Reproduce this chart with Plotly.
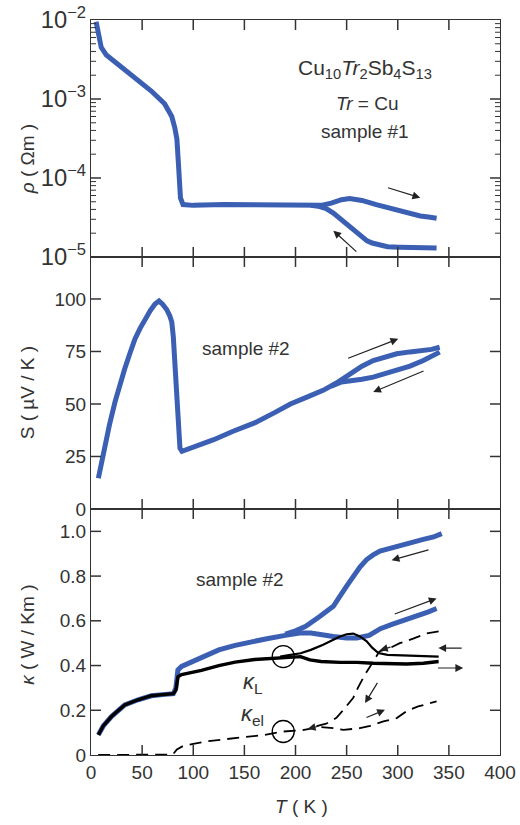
import math
import plotly.graph_objects as go

# ---------------- data ----------------
# resistivity, heating branch
rho_heat_T = [5, 7, 10, 15, 26, 43, 59, 72, 79, 82, 84, 85.4, 86.5, 87.5, 90, 100, 130, 160, 190, 210,
              225, 235, 245, 253, 265, 279, 290, 302, 315, 322, 330, 338]
rho_heat = [9.5e-3, 6.5e-3, 4.5e-3, 3.6e-3, 2.75e-3, 1.9e-3, 1.26e-3, 8.7e-4, 6.0e-4, 4.3e-4, 3.1e-4,
            1.6e-4, 8.0e-5, 5.6e-5, 4.6e-5, 4.5e-5, 4.6e-5, 4.6e-5, 4.6e-5, 4.5e-5,
            4.5e-5, 4.8e-5, 5.3e-5, 5.5e-5, 5.2e-5, 4.6e-5, 4.2e-5, 3.8e-5, 3.45e-5, 3.3e-5, 3.2e-5, 3.1e-5]
# resistivity, cooling branch
rho_cool_T = [338, 320, 302, 290, 283, 275, 270, 262, 253, 245, 237, 230, 222, 215]
rho_cool = [1.3e-5, 1.3e-5, 1.33e-5, 1.35e-5, 1.4e-5, 1.5e-5, 1.6e-5, 1.95e-5, 2.4e-5, 2.95e-5,
            3.6e-5, 4.1e-5, 4.4e-5, 4.5e-5]

# Seebeck, heating branch
S_heat_T = [7.2, 10, 13.7, 18, 23.5, 28, 33, 38, 43, 48, 53, 58, 62.6, 66.5, 70, 74, 77, 79, 80.5, 81.5,
            83, 83.8, 85, 86.4, 87, 89, 92, 100, 105, 120, 139, 160, 180, 195, 210, 227, 240, 253, 265,
            276, 288, 299, 312, 325, 333, 341]
S_heat = [14.6, 22, 30, 40, 51, 59, 66.8, 74, 81, 86, 90.5, 94.5, 97.6, 99, 97.5, 95, 92, 89, 82, 74.7,
          62, 55.7, 45, 35, 29, 27.5, 28, 29.5, 30.4, 33, 37, 41, 46, 50, 53, 56.5, 60, 64.4, 68,
          70.7, 72.5, 73.9, 74.8, 75.5, 76, 77]
# Seebeck, cooling branch
S_cool_T = [341, 333, 325, 312, 299, 288, 276, 265, 253, 245, 235]
S_cool = [74.7, 72.5, 70.7, 68, 66, 64.3, 62.8, 61.8, 61, 60.5, 58.5]

# thermal conductivity (total), heating branch
k_heat_T = [7.2, 12, 20, 33, 46, 59, 70, 80.5, 83, 85, 88.6, 100, 108, 125, 141, 160, 172, 190, 204,
            215, 226, 237, 250, 260, 272, 283, 295, 309, 320, 330, 338]
k_heat = [0.09, 0.13, 0.172, 0.224, 0.247, 0.265, 0.27, 0.274, 0.30, 0.38, 0.396, 0.42, 0.434, 0.47,
          0.49, 0.51, 0.52, 0.535, 0.545, 0.545, 0.54, 0.53, 0.523, 0.523, 0.535, 0.565, 0.585, 0.605,
          0.625, 0.64, 0.655]
# thermal conductivity (total), cooling branch
k_cool_T = [343, 335, 325, 313, 302, 290, 282.6, 276, 269.6, 263, 256.5, 250, 243.5, 237, 224, 218,
            210, 200, 190]
k_cool = [0.99, 0.975, 0.964, 0.95, 0.94, 0.925, 0.912, 0.895, 0.874, 0.84, 0.80, 0.755, 0.71, 0.665,
          0.62, 0.60, 0.575, 0.555, 0.54]

# lattice part kappa_L
kL_heat_T = [7.2, 12, 20, 33, 46, 59, 70, 80.5, 83, 85, 88.6, 108, 125, 141, 160, 188, 205, 214, 225,
             243.5, 260, 276, 290, 308.7, 325, 340]
kL_heat = [0.09, 0.13, 0.172, 0.224, 0.247, 0.265, 0.27, 0.274, 0.29, 0.35, 0.36, 0.378, 0.40, 0.415,
           0.427, 0.437, 0.44, 0.425, 0.418, 0.414, 0.414, 0.41, 0.408, 0.407, 0.41, 0.418]
kL_cool_T = [340, 320, 302, 290, 281, 275, 269.6, 263, 256.5, 250, 243.5, 235, 227, 215, 205, 195, 185]
kL_cool = [0.44, 0.442, 0.444, 0.448, 0.456, 0.48, 0.508, 0.53, 0.543, 0.54, 0.53, 0.51, 0.493, 0.47,
           0.455, 0.448, 0.44]

# electronic part kappa_el
kel_heat_T = [7, 20, 40, 60, 80, 84, 90, 100, 115, 130, 150, 170, 188, 205, 215, 225, 237, 247, 263,
              273, 286, 299, 310, 320, 338]
kel_heat = [0.0, 0.0, 0.0, 0.0, 0.002, 0.025, 0.04, 0.05, 0.062, 0.07, 0.08, 0.09, 0.105, 0.11, 0.118,
            0.125, 0.12, 0.112, 0.12, 0.13, 0.15, 0.165, 0.20, 0.217, 0.24]
kel_cool_T = [340, 328, 315, 302, 292, 282, 273, 268, 261, 256.5, 246.5, 240, 230, 224, 214]
kel_cool = [0.553, 0.543, 0.52, 0.50, 0.478, 0.463, 0.396, 0.36, 0.30, 0.256, 0.20, 0.166, 0.14, 0.134,
            0.122]

# circles marking the curves
circle_T = [188, 188]
circle_k = [0.44, 0.105]

T_ticks = [0, 50, 100, 150, 200, 250, 300, 350, 400]
rho_ticks = [1e-5, 1e-4, 1e-3, 1e-2]
S_ticks = [0, 25, 50, 75, 100]
k_ticks = [0, 0.2, 0.4, 0.6, 0.8, 1.0]
k_ticklabels = ["0", "0.2", "0.4", "0.6", "0.8", "1.0"]

# ---------------- figure ----------------
BLUE = "#3b5fb3"
INK = "#333333"
FONT = "Liberation Sans, Arial, sans-serif"

W, H = 520, 825
ML, MR, MT, MB = 91, 20, 20, 70
PLOT_W = W - ML - MR
PLOT_H = H - MT - MB

# panel domains (paper fractions), top -> bottom
dom_top = [0.6776, 1.0]
dom_mid = [0.3347, 0.6776]
dom_bot = [0.0, 0.3347]
T_range = [0, 400]
logrho_range = [-5, -2]
S_range = [0, 120]
k_range = [0, 1.1]

fig = go.Figure()


def add(x, y, ax, **kw):
    xa = "x" if ax == 1 else f"x{ax}"
    ya = "y" if ax == 1 else f"y{ax}"
    fig.add_trace(go.Scatter(x=x, y=y, xaxis=xa, yaxis=ya, showlegend=False, hoverinfo="skip", **kw))


blue_line = dict(color=BLUE, width=5)
add(rho_heat_T, rho_heat, 1, mode="lines", line=blue_line)
add(rho_cool_T, rho_cool, 1, mode="lines", line=blue_line)
add(S_heat_T, S_heat, 2, mode="lines", line=blue_line)
add(S_cool_T, S_cool, 2, mode="lines", line=blue_line)
add(k_heat_T, k_heat, 3, mode="lines", line=blue_line)
add(k_cool_T, k_cool, 3, mode="lines", line=blue_line)

add(kL_heat_T, kL_heat, 3, mode="lines", line=dict(color="black", width=3.4))
add(kL_cool_T, kL_cool, 3, mode="lines", line=dict(color="black", width=2.2))
add(kel_heat_T, kel_heat, 3, mode="lines", line=dict(color="black", width=1.8, dash="12px,7px"))
add(kel_cool_T, kel_cool, 3, mode="lines", line=dict(color="black", width=1.8, dash="12px,7px"))
add(circle_T, circle_k, 3, mode="markers",
    marker=dict(symbol="circle-open", size=22, color="black", line=dict(width=1.3)))

# ---------------- tick marks drawn as thin line traces (inside, all four sides) ----------------
panels = [
    (1, dom_top, logrho_range, True),
    (2, dom_mid, S_range, False),
    (3, dom_bot, k_range, False),
]
dx_major = 10 * (T_range[1] - T_range[0]) / PLOT_W
dx_minor = 5 * (T_range[1] - T_range[0]) / PLOT_W


def y_of(v, is_log):
    return 10 ** v if is_log else v


for ax, dom, rng, is_log in panels:
    ph = (dom[1] - dom[0]) * PLOT_H
    dy = 10 * (rng[1] - rng[0]) / ph
    xs, ys = [], []
    # x ticks, bottom and top of the panel
    for t in T_ticks[1:-1]:
        xs += [t, t, None, t, t, None]
        ys += [y_of(rng[0], is_log), y_of(rng[0] + dy, is_log), None,
               y_of(rng[1], is_log), y_of(rng[1] - dy, is_log), None]
    # y ticks, left and right
    if is_log:
        vals = [math.log10(v) for v in rho_ticks[1:-1]]
    elif ax == 2:
        vals = S_ticks[1:]
    else:
        vals = k_ticks[1:]
    for v in vals:
        xs += [T_range[0], T_range[0] + dx_major, None, T_range[1], T_range[1] - dx_major, None]
        ys += [y_of(v, is_log)] * 2 + [None] + [y_of(v, is_log)] * 2 + [None]
    add(xs, ys, ax, mode="lines", line=dict(color=INK, width=1.5))
    if is_log:
        mx, my = [], []
        for v in rho_ticks[:-1]:
            for m in range(2, 10):
                mv = v * m
                mx += [T_range[0], T_range[0] + dx_minor, None, T_range[1], T_range[1] - dx_minor, None]
                my += [mv, mv, None, mv, mv, None]
        add(mx, my, ax, mode="lines", line=dict(color=INK, width=1.0))

axis_common = dict(showline=True, linecolor=INK, linewidth=1.2, ticks="", mirror=True,
                   showgrid=False, zeroline=False, automargin=False,
                   tickfont=dict(family=FONT, size=19, color=INK))

fig.update_layout(
    xaxis=dict(domain=[0, 1], anchor="y", range=T_range, tickvals=T_ticks, showticklabels=False,
               **axis_common),
    xaxis2=dict(domain=[0, 1], anchor="y2", range=T_range, tickvals=T_ticks, showticklabels=False,
                **axis_common),
    xaxis3=dict(domain=[0, 1], anchor="y3", range=T_range, tickvals=T_ticks, showticklabels=True,
                **axis_common),
    yaxis=dict(domain=dom_top, anchor="x", type="log", range=logrho_range, dtick=1,
               exponentformat="power", **axis_common),
    yaxis2=dict(domain=dom_mid, anchor="x2", range=S_range, tickvals=S_ticks, **axis_common),
    yaxis3=dict(domain=dom_bot, anchor="x3", range=k_range, tickvals=k_ticks, ticktext=k_ticklabels,
                **axis_common),
)

# ---------------- text ----------------
def ann_paper(text, x, y, angle=0, size=19):
    fig.add_annotation(text=text, xref="paper", yref="paper", x=x, y=y, showarrow=False,
                       textangle=angle, font=dict(family=FONT, size=size, color=INK),
                       xanchor="center", yanchor="middle")


ann_paper("<i>ρ</i> ( Ωm )", -0.155, 0.81, -90)
ann_paper("S ( µV / K )", -0.155, 0.493, -90)
ann_paper("<i>κ</i> ( W / Km )", -0.155, 0.163, -90)
ann_paper("<i>T</i> ( K )", 0.515, -0.07)


def ann_data(text, x, y, ax, size=19):
    xr = "x" if ax == 1 else f"x{ax}"
    yr = "y" if ax == 1 else f"y{ax}"
    fig.add_annotation(text=text, xref=xr, yref=yr, x=x, y=y, showarrow=False,
                       font=dict(family=FONT, size=size, color=INK))


ann_data("Cu<sub>10</sub><i>Tr</i><sub>2</sub>Sb<sub>4</sub>S<sub>13</sub>", 268, -2.62, 1, 21)
ann_data("<i>Tr</i> = Cu", 270, -3.06, 1)
ann_data("sample #1", 268, -3.41, 1)
ann_data("sample #2", 152, 76.4, 2)
ann_data("sample #2", 146, 0.785, 3)
ann_data("<i>κ</i><sub>L</sub>", 158, 0.32, 3, 22)
ann_data("<i>κ</i><sub>el</sub>", 158, 0.18, 3, 22)

# ---------------- arrows (tail -> head, data coordinates) ----------------
arrows = [
    (1, 289, -4.118, 322, -4.25),
    (1, 261, -4.95, 237, -4.667),
    (2, 250, 71.5, 300.5, 81),
    (2, 326.7, 66, 276, 55.7),
    (3, 331.5, 0.919, 294, 0.871),
    (3, 295.6, 0.628, 338, 0.70),
    (3, 364, 0.478, 339.7, 0.478),
    (3, 338, 0.389, 364, 0.389),
    (3, 281, 0.329, 268, 0.232),
    (3, 268, 0.165, 287.5, 0.202),
    (3, 294.4, 0.484, 282.6, 0.469),
    (3, 224, 0.13, 212, 0.117),
]
for ax, tx, ty, hx, hy in arrows:
    xr = "x" if ax == 1 else f"x{ax}"
    yr = "y" if ax == 1 else f"y{ax}"
    fig.add_annotation(x=hx, y=hy, ax=tx, ay=ty, xref=xr, yref=yr, axref=xr, ayref=yr,
                       text="", showarrow=True, arrowhead=2, arrowsize=1.3, arrowwidth=1.2,
                       arrowcolor="#222222", standoff=0, startstandoff=0)

fig.update_layout(width=W, height=H, margin=dict(l=ML, r=MR, t=MT, b=MB, autoexpand=False),
                  paper_bgcolor="white", plot_bgcolor="white",
                  font=dict(family=FONT, size=19, color=INK), showlegend=False)

fig.write_html("out.html", config={"displayModeBar": False},
               post_script="document.body.style.margin='0';")
